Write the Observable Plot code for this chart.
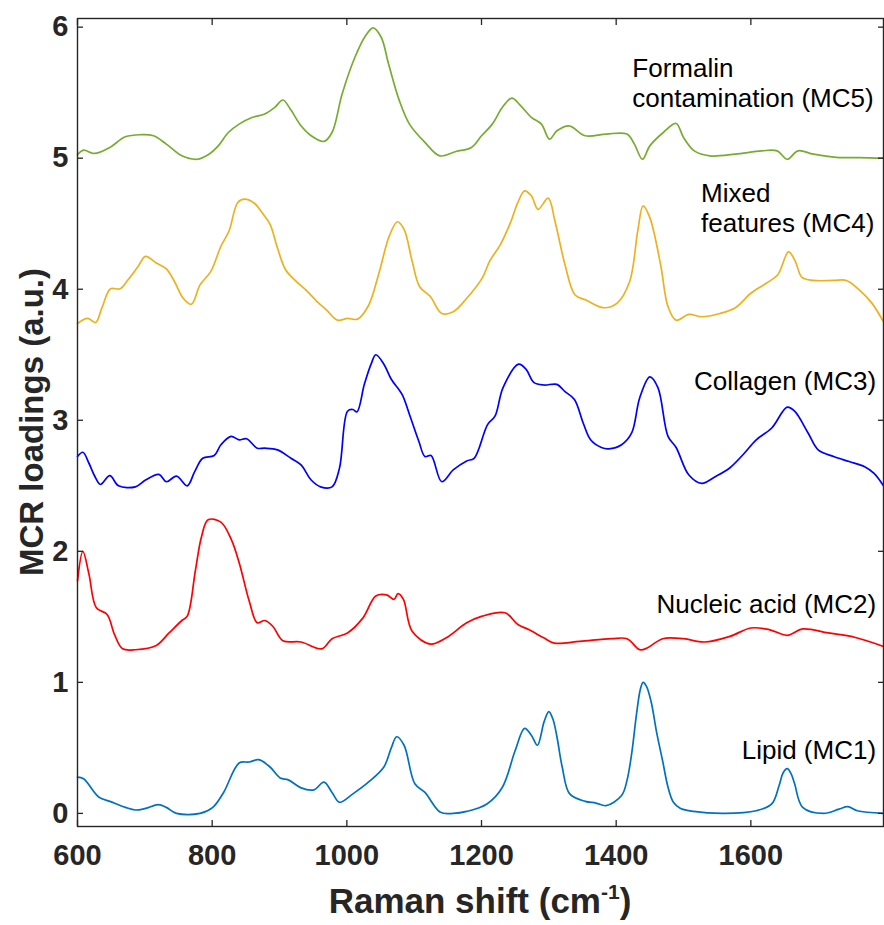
<!DOCTYPE html>
<html>
<head>
<meta charset="utf-8">
<script src="https://cdn.jsdelivr.net/npm/d3@7"></script>
<script src="https://cdn.jsdelivr.net/npm/@observablehq/plot@0.6"></script>
<style>
  body { margin: 0; background: #fff; }
  #chart svg { display: block; }
  #chart svg g[aria-label="x-axis tick label"] text,
  #chart svg g[aria-label="y-axis tick label"] text { font-size: 29px; font-weight: bold; }
</style>
</head>
<body>
<div id="chart"></div>
<script>
// ---- data ----
const seriesNames  = ["Lipid (MC1)", "Nucleic acid (MC2)", "Collagen (MC3)", "Mixed features (MC4)", "Formalin contamination (MC5)"];
const seriesColors = ["#0072BD", "#FF0000", "#0000FF", "#EDB120", "#77AC30"];

const mc1X = [600,609,632,648,671,686,701,720,732,747,782,801,817,840,855,869,886,901,913,932,951,966,978,989,1009,1032,1055,1066,1074,1085,1101,1116,1139,1158,1178,1208,1231,1250,1264,1274,1283,1293,1300,1306,1312,1320,1331,1354,1370,1385,1408,1416,1423,1430,1436,1440,1445,1452,1460,1469,1477,1485,1495,1515,1561,1608,1631,1642,1648,1654,1660,1665,1677,1708,1731,1744,1758,1797];
const mc1Y = [0.277,0.264,0.123,0.092,0.046,0.026,0.038,0.067,0.046,0,0,0.046,0.16,0.385,0.392,0.41,0.354,0.27,0.256,0.195,0.18,0.238,0.16,0.085,0.149,0.238,0.354,0.5,0.585,0.52,0.226,0.16,0.008,0,0.015,0.072,0.2,0.48,0.649,0.597,0.52,0.7,0.777,0.72,0.585,0.35,0.149,0.092,0.079,0.059,0.136,0.25,0.456,0.75,0.95,1.0,0.97,0.85,0.62,0.4,0.2,0.085,0.04,0.015,0,0.02,0.072,0.213,0.31,0.341,0.3,0.226,0.046,0,0.033,0.051,0.02,0];

const mc2X = [600,608,617,628,644,655,667,686,717,736,755,763,775,784,794,813,828,840,855,867,878,890,905,932,963,978,1001,1024,1043,1059,1070,1076,1084,1097,1124,1147,1178,1201,1235,1254,1270,1293,1308,1346,1393,1416,1435,1446,1469,1500,1531,1569,1600,1627,1654,1677,1715,1754,1797];
const mc2Y = [1.774,2.0,1.826,1.569,1.518,1.364,1.256,1.249,1.282,1.377,1.472,1.505,1.851,2.108,2.241,2.223,2.095,1.915,1.62,1.454,1.472,1.428,1.318,1.308,1.256,1.333,1.377,1.492,1.659,1.667,1.633,1.677,1.633,1.39,1.292,1.338,1.454,1.505,1.531,1.441,1.403,1.338,1.3,1.313,1.333,1.333,1.249,1.262,1.333,1.333,1.308,1.351,1.415,1.403,1.359,1.408,1.377,1.344,1.274];

const mc3X = [600,608,617,626,634,648,661,686,701,721,732,747,763,774,786,803,813,828,840,851,867,878,897,917,932,947,961,978,989,1001,1009,1015,1026,1036,1043,1055,1066,1082,1093,1107,1116,1125,1141,1158,1178,1189,1209,1220,1232,1255,1266,1278,1293,1312,1324,1338,1351,1362,1378,1389,1408,1423,1435,1450,1462,1477,1489,1508,1527,1547,1569,1589,1608,1631,1654,1665,1685,1700,1723,1746,1769,1783,1797];
const mc3Y = [2.723,2.756,2.672,2.569,2.51,2.577,2.5,2.492,2.544,2.587,2.531,2.574,2.5,2.608,2.71,2.731,2.813,2.877,2.851,2.859,2.787,2.787,2.774,2.71,2.659,2.544,2.492,2.492,2.633,3.069,3.082,3.064,3.274,3.428,3.5,3.428,3.313,3.197,3.044,2.838,2.723,2.731,2.531,2.621,2.69,2.71,2.967,3.031,3.249,3.428,3.39,3.287,3.269,3.274,3.218,3.159,2.979,2.851,2.792,2.782,2.813,2.903,3.172,3.331,3.249,2.877,2.792,2.582,2.518,2.569,2.638,2.741,2.851,2.941,3.1,3.069,2.903,2.774,2.723,2.685,2.646,2.595,2.5];

const mc4X = [600,615,627,636,649,663,675,690,701,717,732,744,757,769,782,798,813,825,838,848,863,874,886,897,909,924,939,955,970,986,1001,1016,1032,1047,1063,1075,1085,1097,1108,1124,1141,1158,1178,1201,1212,1228,1243,1254,1264,1274,1284,1299,1309,1324,1339,1355,1381,1401,1420,1432,1440,1450,1466,1477,1489,1508,1527,1554,1577,1600,1623,1640,1656,1666,1676,1693,1723,1742,1761,1780,1797];
const mc4Y = [3.738,3.777,3.746,3.854,4.003,4.003,4.072,4.174,4.251,4.2,4.156,4.059,3.931,3.885,4.033,4.136,4.328,4.444,4.662,4.687,4.654,4.585,4.495,4.315,4.149,4.064,3.995,3.91,3.841,3.764,3.777,3.772,3.874,4.11,4.405,4.515,4.456,4.213,4.021,3.944,3.815,3.828,3.931,4.085,4.213,4.341,4.508,4.662,4.751,4.713,4.61,4.695,4.521,4.187,3.956,3.918,3.859,3.892,4.059,4.444,4.636,4.546,4.187,3.867,3.764,3.808,3.79,3.815,3.859,3.969,4.046,4.11,4.285,4.213,4.09,4.067,4.067,4.067,3.995,3.892,3.751];

const mc5X = [600,609,625,648,671,694,713,732,755,778,794,809,824,840,859,878,893,905,916,932,947,966,978,993,1012,1028,1039,1051,1062,1078,1093,1116,1138,1162,1185,1200,1216,1231,1245,1258,1274,1289,1301,1312,1330,1354,1385,1416,1427,1439,1450,1470,1489,1500,1516,1539,1577,1616,1639,1654,1670,1693,1731,1761,1797];
const mc5Y = [5.026,5.061,5.036,5.082,5.163,5.179,5.171,5.107,5.018,4.992,5.026,5.094,5.196,5.26,5.311,5.337,5.388,5.444,5.375,5.247,5.171,5.128,5.196,5.49,5.77,5.936,5.995,5.923,5.719,5.439,5.26,5.12,5.018,5.051,5.082,5.171,5.26,5.388,5.459,5.401,5.311,5.26,5.145,5.209,5.247,5.171,5.184,5.184,5.107,4.992,5.094,5.196,5.265,5.158,5.056,5.018,5.031,5.056,5.056,4.992,5.056,5.031,5.005,5.005,5.0];

const xTicks = [600, 800, 1000, 1200, 1400, 1600];
const yTicks = [0, 1, 2, 3, 4, 5, 6];

// annotation lines (text, anchor position in data units)
const labelText = ["Formalin", "contamination (MC5)", "Mixed", "features (MC4)", "Collagen (MC3)", "Nucleic acid (MC2)", "Lipid (MC1)"];
const labelX    = [1424, 1424, 1526, 1526, 1786, 1786, 1786];
const labelY    = [5.616, 5.387, 4.664, 4.435, 3.234, 1.527, 0.418];
const labelAnchor = ["start", "start", "start", "start", "end", "end", "end"];

// ---- build table ----
const allX = [mc1X, mc2X, mc3X, mc4X, mc5X];
const allY = [mc1Y, mc2Y, mc3Y, mc4Y, mc5Y];
const rows = [];
seriesNames.forEach((name, i) => {
  allX[i].forEach((w, j) => rows.push({series: name, w, v: allY[i][j]}));
});
const labels = labelText.map((t, i) => ({text: t, x: labelX[i], y: labelY[i], anchor: labelAnchor[i]}));

const axisColor = "#262626";
const fontFamily = "'Liberation Sans', Arial, Helvetica, sans-serif";
const fmt = d => String(d);
const blank = () => "";

const plot = Plot.plot({
  width: 884,
  height: 925,
  marginLeft: 77,
  marginRight: 1,
  marginTop: 18,
  marginBottom: 99,
  style: {fontFamily, color: axisColor, background: "#fff", overflow: "visible"},
  x: {domain: [600, 1797]},
  y: {domain: [-0.1, 6.066]},
  color: {domain: seriesNames, range: seriesColors},
  marks: [
    Plot.line(rows, {x: "w", y: "v", z: "series", stroke: "series", strokeWidth: 1.7, curve: "catmull-rom"}),
    // tick labels
    Plot.axisX(xTicks, {anchor: "bottom", tickSize: 0, tickPadding: 18, tickFormat: fmt, fontSize: 29, fontWeight: "bold", label: null}),
    Plot.axisY(yTicks, {anchor: "left", tickSize: 0, tickPadding: 9, tickFormat: fmt, fontSize: 29, fontWeight: "bold", label: null}),
    // inward tick marks on all four sides
    Plot.axisX(xTicks, {anchor: "bottom", tickSize: -6, strokeWidth: 1.3, tickFormat: blank, label: null}),
    Plot.axisX(xTicks, {anchor: "top", tickSize: -6, strokeWidth: 1.3, tickFormat: blank, label: null}),
    Plot.axisY(yTicks, {anchor: "left", tickSize: -6, strokeWidth: 1.3, tickFormat: blank, label: null}),
    Plot.axisY(yTicks, {anchor: "right", tickSize: -6, strokeWidth: 1.3, tickFormat: blank, label: null}),
    Plot.frame({stroke: axisColor, strokeWidth: 1.4}),
    Plot.text(labels.filter(d => d.anchor === "start"), {x: "x", y: "y", text: "text", textAnchor: "start", lineAnchor: "bottom", fontSize: 26, fill: "#000"}),
    Plot.text(labels.filter(d => d.anchor === "end"), {x: "x", y: "y", text: "text", textAnchor: "end", lineAnchor: "bottom", fontSize: 26, fill: "#000"})
  ]
});

document.getElementById("chart").appendChild(plot);

// axis titles
const svg = d3.select(plot);
const xr = plot.scale("x").range;
const yr = plot.scale("y").range;
const xt = svg.append("text")
  .attr("x", (xr[0] + xr[1]) / 2)
  .attr("y", 913)
  .attr("text-anchor", "middle")
  .attr("font-family", fontFamily)
  .attr("font-weight", "bold")
  .attr("font-size", 35)
  .attr("fill", axisColor);
xt.append("tspan").text("Raman shift (cm");
xt.append("tspan").attr("font-size", 21).attr("dy", -14).text("-1");
xt.append("tspan").attr("dy", 14).text(")");

svg.append("text")
  .attr("transform", `translate(43,${(yr[0] + yr[1]) / 2}) rotate(-90)`)
  .attr("text-anchor", "middle")
  .attr("font-family", fontFamily)
  .attr("font-weight", "bold")
  .attr("font-size", 33)
  .attr("fill", axisColor)
  .text("MCR loadings (a.u.)");
</script>
</body>
</html>
